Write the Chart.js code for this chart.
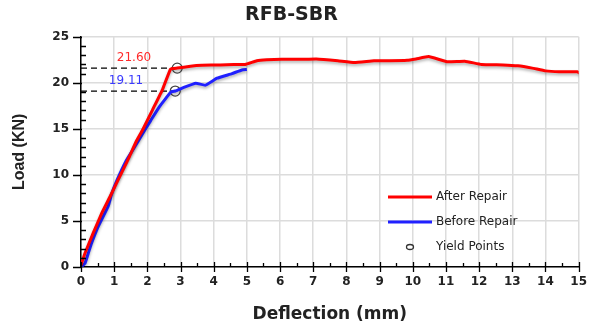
<!DOCTYPE html>
<html>
<head>
<meta charset="utf-8">
<script src="https://cdn.jsdelivr.net/npm/chart.js@4/dist/chart.umd.min.js"></script>
<style>
  body { margin: 0; background: #fff; }
</style>
</head>
<body>
<canvas id="myChart" width="595" height="326"></canvas>
<script>
// After repair curve (deflection mm, load kN)
const afterDefl = [0, 0.12, 0.37, 0.62, 0.87, 1.07, 1.3, 1.46, 1.66, 1.86, 2.16, 2.46, 2.7, 2.9, 3.3, 3.65, 4.2, 4.6, 4.95, 5.3, 5.6, 6.05, 6.6, 7.09, 7.74, 8.24, 8.83, 9.3, 9.83, 10.1, 10.48, 11.03, 11.57, 12.07, 12.72, 13.17, 13.6, 14.0, 14.41, 14.96, 15.06];
const afterLoad = [0.2, 1.5, 3.7, 5.8, 7.6, 9.1, 10.8, 12.0, 13.6, 14.9, 17.1, 19.3, 21.5, 21.6, 21.8, 21.9, 21.95, 22.0, 22.0, 22.4, 22.5, 22.55, 22.55, 22.6, 22.4, 22.2, 22.4, 22.4, 22.45, 22.6, 22.85, 22.3, 22.35, 22.0, 21.95, 21.85, 21.6, 21.3, 21.2, 21.2, 21.0];

// Before repair curve
const beforeDefl = [0, 0.12, 0.22, 0.32, 0.52, 0.82, 0.92, 1.07, 1.37, 1.61, 1.86, 2.1, 2.36, 2.71, 2.84, 3.1, 3.46, 3.75, 4.1, 4.55, 4.85, 5.0];
const beforeLoad = [0, 0.4, 1.5, 2.6, 4.4, 6.6, 7.9, 9.3, 11.6, 13.0, 14.5, 15.9, 17.4, 19.0, 19.11, 19.5, 19.95, 19.75, 20.5, 21.0, 21.4, 21.45];

// yield points: [after, before]
const yieldDefl = [2.9, 2.84];
const yieldLoad = [21.60, 19.11];
const yieldColors = ['#ff2a2a', '#3a3aff'];

const seriesNames = ['After Repair', 'Before Repair', 'Yield Points'];

function toXY(xs, ys) {
    return xs.map(function (x, i) { return { x: x, y: ys[i] }; });
}

// value labels for the yield points
const yieldPlugin = {
    id: 'yieldPlugin',
    afterDatasetsDraw(chart) {
        const ctx = chart.ctx;
        const ys = chart.scales.y;
        ctx.save();
        ctx.font = '12px "DejaVu Sans"';
        ctx.textAlign = 'center';
        ctx.textBaseline = 'bottom';
        yieldLoad.forEach(function (v, i) {
            const py = ys.getPixelForValue(v);
            ctx.fillStyle = yieldColors[i];
            ctx.fillText(v.toFixed(2), i === 0 ? 134 : 126, py - 4);
        });
        ctx.restore();
    }
};

// shadows under the main lines
const shadowPlugin = {
    id: 'shadowPlugin',
    beforeDatasetDraw(chart, args) {
        if (args.index > 1) return;
        const ctx = chart.ctx;
        ctx.save();
        ctx.shadowColor = 'rgba(0,0,0,0.3)';
        ctx.shadowBlur = 3;
        ctx.shadowOffsetY = 2;
    },
    afterDatasetDraw(chart, args) {
        if (args.index > 1) return;
        chart.ctx.restore();
    }
};

// major/minor tick marks on both axes
const tickPlugin = {
    id: 'tickPlugin',
    afterDraw(chart) {
        const ctx = chart.ctx;
        const xs = chart.scales.x, ys = chart.scales.y;
        const ax = xs.getPixelForValue(0), ay = ys.getPixelForValue(0);
        ctx.save();
        ctx.strokeStyle = '#000';
        ctx.lineWidth = 1.3;
        ctx.beginPath();
        for (let v = 0; v <= 25; v++) {
            const py = Math.round(ys.getPixelForValue(v)) + 0.5;
            if (v % 5 === 0) { ctx.moveTo(ax - 8, py); ctx.lineTo(ax + 1, py); }
            else { ctx.moveTo(ax, py); ctx.lineTo(ax + 5, py); }
        }
        for (let v = 0; v <= 30; v++) {
            const px = Math.round(xs.getPixelForValue(v / 2)) + 0.5;
            if (v % 2 === 0) { ctx.moveTo(px, ay - 5); ctx.lineTo(px, ay + 5); }
            else { ctx.moveTo(px, ay - 4); ctx.lineTo(px, ay); }
        }
        ctx.stroke();
        ctx.restore();
    }
};

// legend inside the plot, lower right
const legendPlugin = {
    id: 'legendPlugin',
    afterDraw(chart) {
        const ctx = chart.ctx;
        const x0 = 388, y0 = 197, gap = 25;
        ctx.save();
        ctx.font = '12px "DejaVu Sans"';
        ctx.textBaseline = 'middle';
        ctx.fillStyle = '#222';
        const colors = ['#ff0000', '#2020ff'];
        for (let i = 0; i < 2; i++) {
            ctx.strokeStyle = colors[i];
            ctx.lineWidth = 3;
            ctx.beginPath();
            ctx.moveTo(x0, y0 + i * gap);
            ctx.lineTo(x0 + 44, y0 + i * gap);
            ctx.stroke();
            ctx.fillText(seriesNames[i], x0 + 48, y0 + i * gap);
        }
        ctx.strokeStyle = '#333';
        ctx.lineWidth = 1.3;
        ctx.beginPath();
        ctx.ellipse(x0 + 22, y0 + 2 * gap, 3.5, 2.5, 0, 0, Math.PI * 2);
        ctx.stroke();
        ctx.fillText(seriesNames[2], x0 + 48, y0 + 2 * gap);
        ctx.restore();
    }
};

const data = {
    datasets: [
        {
            label: seriesNames[0],
            data: toXY(afterDefl, afterLoad),
            borderColor: '#ff0000',
            borderWidth: 3,
            pointRadius: 0,
            tension: 0.1
        },
        {
            label: seriesNames[1],
            data: toXY(beforeDefl, beforeLoad),
            borderColor: '#2020ff',
            borderWidth: 3,
            pointRadius: 0,
            tension: 0.1
        },
        {
            label: seriesNames[2],
            data: toXY(yieldDefl, yieldLoad),
            showLine: false,
            pointRadius: 5,
            pointBorderColor: '#444',
            pointBackgroundColor: 'rgba(0,0,0,0)',
            pointBorderWidth: 1.2
        },
        {
            label: 'guide1',
            data: [{ x: 0, y: yieldLoad[0] }, { x: yieldDefl[0], y: yieldLoad[0] }],
            borderColor: '#000',
            borderWidth: 1.2,
            borderDash: [6, 4],
            pointRadius: 0
        },
        {
            label: 'guide2',
            data: [{ x: 0, y: yieldLoad[1] }, { x: yieldDefl[1], y: yieldLoad[1] }],
            borderColor: '#000',
            borderWidth: 1.2,
            borderDash: [6, 4],
            pointRadius: 0
        }
    ]
};

const config = {
    type: 'line',
    data: data,
    options: {
        responsive: false,
        animation: false,
        layout: { padding: { left: 0, right: 12, top: 0, bottom: 0 } },
        plugins: {
            legend: { display: false },
            tooltip: { enabled: false },
            title: {
                display: true,
                text: 'RFB-SBR',
                color: '#222',
                font: { family: 'DejaVu Sans', size: 19, weight: 'bold' },
                padding: { top: 4, bottom: 10 }
            }
        },
        scales: {
            x: {
                type: 'linear',
                min: 0,
                max: 15,
                afterFit: function (s) { s.height = 59; },
                ticks: {
                    stepSize: 0.5,
                    autoSkip: false,
                    maxRotation: 0,
                    padding: 8,
                    color: '#222',
                    font: { family: 'DejaVu Sans', size: 12, weight: 'bold' },
                    callback: function (v) { return Number.isInteger(v) ? String(v) : ''; }
                },
                grid: {
                    drawTicks: false,
                    color: function (c) { return c.tick && Number.isInteger(c.tick.value) ? '#dcdcdc' : 'rgba(0,0,0,0)'; },
                    lineWidth: 1.5
                },
                border: { color: '#000', width: 1.5 },
                title: {
                    display: true,
                    text: 'Deflection (mm)',
                    color: '#222',
                    font: { family: 'DejaVu Sans', size: 17, weight: 'bold' },
                    padding: { top: 0, bottom: 1 }
                }
            },
            y: {
                min: 0,
                max: 25,
                afterFit: function (s) { s.width = 81; },
                ticks: {
                    stepSize: 1,
                    autoSkip: false,
                    padding: 12,
                    color: '#222',
                    font: { family: 'DejaVu Sans', size: 12, weight: 'bold' },
                    callback: function (v) { return v % 5 === 0 ? String(v) : ''; }
                },
                grid: {
                    drawTicks: false,
                    color: function (c) { return c.tick && c.tick.value % 5 === 0 ? '#dcdcdc' : 'rgba(0,0,0,0)'; },
                    lineWidth: 1.5
                },
                border: { color: '#000', width: 1.5 },
                title: {
                    display: true,
                    text: 'Load (KN)',
                    color: '#222',
                    font: { family: 'Liberation Sans', size: 16, weight: 'bold' },
                    padding: { top: 10, bottom: 0 }
                }
            }
        }
    },
    plugins: [shadowPlugin, yieldPlugin, tickPlugin, legendPlugin]
};

var myChart = new Chart(document.getElementById('myChart'), config);
</script>
</body>
</html>
